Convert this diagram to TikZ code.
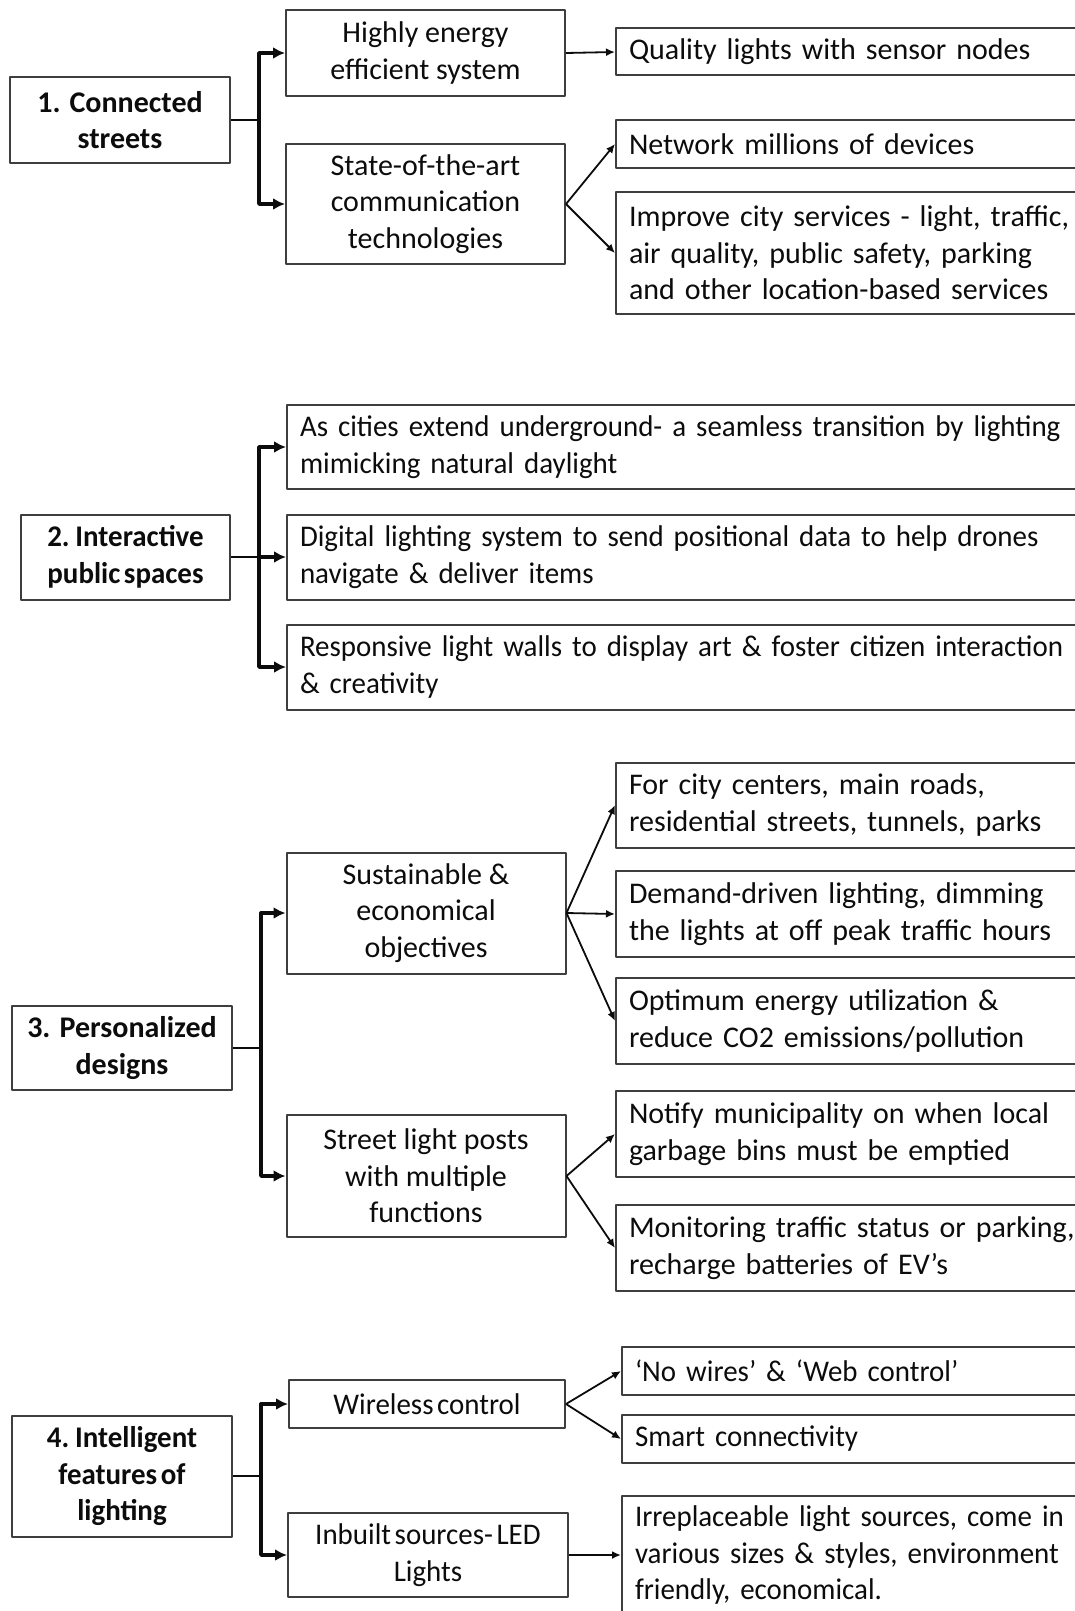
\documentclass[tikz,border=0pt]{standalone}
\usepackage{fontspec}
\setmainfont{Carlito}
\newfontfamily\narrowfont[WordSpace=0.55,FakeStretch=0.965]{Carlito}
\usepackage{tikz}
\usetikzlibrary{arrows.meta,positioning}
\definecolor{boxline}{RGB}{62,62,62}
\definecolor{ink}{RGB}{12,12,12}

\begin{document}
\begin{tikzpicture}[x=0.5pt, y=-0.5pt, line join=round, >=Latex,
    every node/.style={text=ink, font=\fontsize{15}{18.3}\selectfont},
    rootbox/.style={draw=boxline, line width=1pt, align=center, minimum width=110pt,
        inner sep=2pt, font=\fontsize{15}{18.3}\selectfont\bfseries},
    midbox/.style={draw=boxline, line width=1pt, align=center, minimum width=139.5pt, inner sep=2pt},
    leafbox/.style={draw=boxline, line width=1pt, anchor=west, align=left, text width=232pt,
        inner xsep=6.5pt, inner ysep=2pt},
    widebox/.style={leafbox, text width=400pt},
    busline/.style={ink, line width=1pt},
    busarrow/.style={ink, line width=1.7pt, -{Latex[length=6pt,width=6pt]}},
    leafarrow/.style={ink, line width=0.9pt, -{Latex[length=4.5pt,width=4pt]}}]
    \useasboundingbox (0,0) rectangle (1075,1611);

    % 1. connected streets
    \node[rootbox, minimum height=42.5pt] (root1) at (120,120) {1. Connected\\streets};
    \node[midbox, minimum height=43pt] (mid1a) at (425.5,53) {Highly energy\\efficient system};
    \node[midbox, minimum height=60pt] (mid1b) at (425.5,204) {State-of-the-art\\communication\\technologies};
    \node[leafbox, minimum height=23.5pt] (leaf1a) at (615,52) {Quality lights with sensor nodes};
    \node[leafbox, minimum height=24pt] (leaf1b) at (615,144) {Network millions of devices};
    \node[leafbox, minimum height=61pt] (leaf1c) at (615,253) {Improve city services - light, traffic,\\air quality, public safety, parking\\and other location-based services};
    \coordinate (bus1) at (259,120);
    \draw[busline] (root1.east) -- (bus1);
    \draw[busarrow] (bus1) |- (mid1a);
    \draw[busarrow] (bus1) |- (mid1b);
    \draw[leafarrow] (mid1a.east) -- (leaf1a.west);
    \draw[leafarrow] (mid1b.east) -- (leaf1b.west);
    \draw[leafarrow] (mid1b.east) -- (leaf1c.west);

    % 2. interactive public spaces
    \node[rootbox, minimum width=104.5pt, minimum height=42.5pt, font=\fontsize{15}{18.3}\narrowfont\bfseries] (root2) at (125.5,557) {2. Interactive\\public spaces};
    \node[widebox, minimum height=42pt, font=\fontsize{15}{18.3}\narrowfont] (leaf2a) at (286,447) {As cities extend underground- a seamless transition by lighting\\mimicking natural daylight};
    \node[widebox, minimum height=42.5pt, font=\fontsize{15}{18.3}\narrowfont] (leaf2b) at (286,557) {Digital lighting system to send positional data to help drones\\navigate \& deliver items};
    \node[widebox, minimum height=42.5pt, font=\fontsize{15}{18.3}\narrowfont] (leaf2c) at (286,667) {Responsive light walls to display art \& foster citizen interaction\\\& creativity};
    \coordinate (bus2) at (259,557);
    \draw[busline] (root2.east) -- (bus2);
    \draw[busarrow] (bus2) |- (leaf2a);
    \draw[busarrow] (bus2) -- (leaf2b);
    \draw[busarrow] (bus2) |- (leaf2c);

    % 3. personalized designs
    \node[rootbox, minimum height=42pt] (root3) at (122,1048) {3. Personalized\\designs};
    \node[midbox, minimum height=60.5pt] (mid3a) at (426,913) {Sustainable \&\\economical\\objectives};
    \node[midbox, minimum height=61pt] (mid3b) at (426,1176) {Street light posts\\with multiple\\functions};
    \node[leafbox, minimum height=42.5pt] (leaf3a) at (615,805) {For city centers, main roads,\\residential streets, tunnels, parks};
    \node[leafbox, minimum height=43pt] (leaf3b) at (615,914) {Demand-driven lighting, dimming\\the lights at off peak traffic hours};
    \node[leafbox, minimum height=43pt] (leaf3c) at (615,1021) {Optimum energy utilization \&\\reduce CO2 emissions/pollution};
    \node[leafbox, minimum height=43pt] (leaf3d) at (615,1134) {Notify municipality on when local\\garbage bins must be emptied};
    \node[leafbox, minimum height=43pt] (leaf3e) at (615,1248) {Monitoring traffic status or parking,\\recharge batteries of EV’s};
    \coordinate (bus3) at (261,1048);
    \draw[busline] (root3.east) -- (bus3);
    \draw[busarrow] (bus3) |- (mid3a);
    \draw[busarrow] (bus3) |- (mid3b);
    \foreach \leaf in {leaf3a,leaf3b,leaf3c}
        \draw[leafarrow] (mid3a.east) -- (\leaf.west);
    \foreach \leaf in {leaf3d,leaf3e}
        \draw[leafarrow] (mid3b.east) -- (\leaf.west);

    % 4. intelligent features of lighting
    \node[rootbox, minimum height=60.5pt, font=\fontsize{15}{18.3}\narrowfont\bfseries] (root4) at (122,1476) {4. Intelligent\\features of\\lighting};
    \node[midbox, minimum width=138pt, minimum height=24pt, font=\fontsize{15}{18.3}\narrowfont] (mid4a) at (427,1404) {Wireless control};
    \node[midbox, minimum width=140pt, minimum height=42pt, font=\fontsize{15}{18.3}\narrowfont] (mid4b) at (428,1555) {Inbuilt sources- LED\\Lights};
    \node[leafbox, minimum height=24pt, font=\fontsize{15}{18.3}\narrowfont] (leaf4a) at (621,1371) {‘No wires’ \& ‘Web control’};
    \node[leafbox, minimum height=24pt, font=\fontsize{15}{18.3}\narrowfont] (leaf4b) at (621,1439) {Smart connectivity};
    \node[leafbox, minimum height=59pt, font=\fontsize{15}{18.3}\narrowfont] (leaf4c) at (621,1555) {Irreplaceable light sources, come in\\various sizes \& styles, environment\\friendly, economical.};
    \coordinate (bus4) at (261,1476);
    \draw[busline] (root4.east) -- (bus4);
    \draw[busarrow] (bus4) |- (mid4a);
    \draw[busarrow] (bus4) |- (mid4b);
    \draw[leafarrow] (mid4a.east) -- (leaf4a.west);
    \draw[leafarrow] (mid4a.east) -- (leaf4b.west);
    \draw[leafarrow] (mid4b.east) -- (leaf4c.west);
\end{tikzpicture}
\end{document}
